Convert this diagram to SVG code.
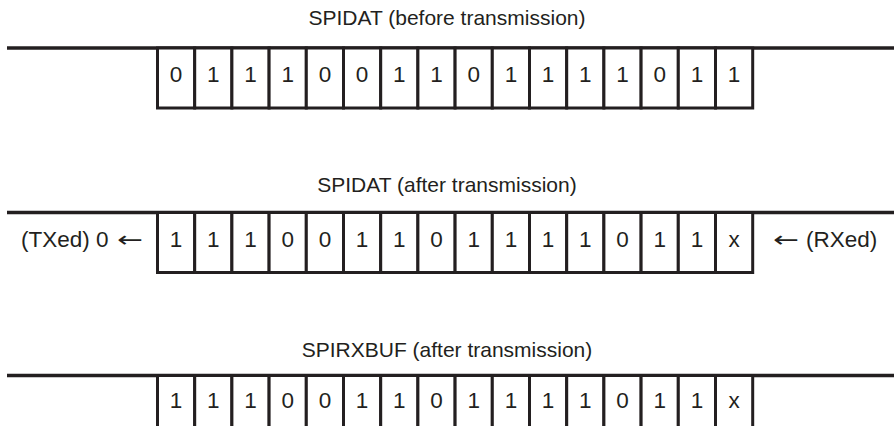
<svg xmlns="http://www.w3.org/2000/svg" width="894" height="426" viewBox="0 0 894 426">
<defs>
<style>
.t{font-family:"Liberation Sans",Arial,sans-serif;font-size:21px;fill:#231f20;text-anchor:middle}
.d{font-family:"Liberation Sans",Arial,sans-serif;font-size:22.5px;fill:#231f20;text-anchor:middle}
.s{font-family:"Liberation Sans",Arial,sans-serif;font-size:22.5px;fill:#231f20}
.a{font-family:"DejaVu Sans",sans-serif;font-size:22px;fill:#231f20}
.bus{stroke:#231f20;stroke-width:3.5;fill:none}
.c{stroke:#231f20;stroke-width:3;fill:#fff}
</style>
</defs>
<rect width="894" height="426" fill="#fff"/>
<g id="row1">
<text class="t" x="447" y="25">SPIDAT (before transmission)</text>
<line class="bus" x1="7" y1="48" x2="894" y2="48"/>
<g id="row1-cells">
<rect class="c" x="157.5" y="48" width="37.2" height="60"/><rect class="c" x="194.7" y="48" width="37.2" height="60"/><rect class="c" x="231.9" y="48" width="37.2" height="60"/><rect class="c" x="269.1" y="48" width="37.2" height="60"/><rect class="c" x="306.3" y="48" width="37.2" height="60"/><rect class="c" x="343.5" y="48" width="37.2" height="60"/><rect class="c" x="380.7" y="48" width="37.2" height="60"/><rect class="c" x="417.9" y="48" width="37.2" height="60"/><rect class="c" x="455.1" y="48" width="37.2" height="60"/><rect class="c" x="492.3" y="48" width="37.2" height="60"/><rect class="c" x="529.5" y="48" width="37.2" height="60"/><rect class="c" x="566.7" y="48" width="37.2" height="60"/><rect class="c" x="603.9" y="48" width="37.2" height="60"/><rect class="c" x="641.1" y="48" width="37.2" height="60"/><rect class="c" x="678.3" y="48" width="37.2" height="60"/><rect class="c" x="715.5" y="48" width="37.2" height="60"/>
</g>
<text class="d" x="176.1" y="82">0</text><text class="d" x="213.3" y="82">1</text><text class="d" x="250.5" y="82">1</text><text class="d" x="287.7" y="82">1</text><text class="d" x="324.9" y="82">0</text><text class="d" x="362.1" y="82">0</text><text class="d" x="399.3" y="82">1</text><text class="d" x="436.5" y="82">1</text><text class="d" x="473.7" y="82">0</text><text class="d" x="510.9" y="82">1</text><text class="d" x="548.1" y="82">1</text><text class="d" x="585.3" y="82">1</text><text class="d" x="622.5" y="82">1</text><text class="d" x="659.7" y="82">0</text><text class="d" x="696.9" y="82">1</text><text class="d" x="734.1" y="82">1</text>
</g>
<g id="row2">
<text class="t" x="447" y="192">SPIDAT (after transmission)</text>
<line class="bus" x1="7" y1="212.5" x2="894" y2="212.5"/>
<g id="row2-cells">
<rect class="c" x="157.5" y="212.5" width="37.2" height="60"/><rect class="c" x="194.7" y="212.5" width="37.2" height="60"/><rect class="c" x="231.9" y="212.5" width="37.2" height="60"/><rect class="c" x="269.1" y="212.5" width="37.2" height="60"/><rect class="c" x="306.3" y="212.5" width="37.2" height="60"/><rect class="c" x="343.5" y="212.5" width="37.2" height="60"/><rect class="c" x="380.7" y="212.5" width="37.2" height="60"/><rect class="c" x="417.9" y="212.5" width="37.2" height="60"/><rect class="c" x="455.1" y="212.5" width="37.2" height="60"/><rect class="c" x="492.3" y="212.5" width="37.2" height="60"/><rect class="c" x="529.5" y="212.5" width="37.2" height="60"/><rect class="c" x="566.7" y="212.5" width="37.2" height="60"/><rect class="c" x="603.9" y="212.5" width="37.2" height="60"/><rect class="c" x="641.1" y="212.5" width="37.2" height="60"/><rect class="c" x="678.3" y="212.5" width="37.2" height="60"/><rect class="c" x="715.5" y="212.5" width="37.2" height="60"/>
</g>
<text class="d" x="176.1" y="247">1</text><text class="d" x="213.3" y="247">1</text><text class="d" x="250.5" y="247">1</text><text class="d" x="287.7" y="247">0</text><text class="d" x="324.9" y="247">0</text><text class="d" x="362.1" y="247">1</text><text class="d" x="399.3" y="247">1</text><text class="d" x="436.5" y="247">0</text><text class="d" x="473.7" y="247">1</text><text class="d" x="510.9" y="247">1</text><text class="d" x="548.1" y="247">1</text><text class="d" x="585.3" y="247">1</text><text class="d" x="622.5" y="247">0</text><text class="d" x="659.7" y="247">1</text><text class="d" x="696.9" y="247">1</text><text class="d" x="734.1" y="247">x</text>
<g id="txed"><text class="s" x="21" y="247">(TXed) 0</text><text class="a" x="117" y="247" textLength="26" lengthAdjust="spacingAndGlyphs">←</text></g>
<g id="rxed"><text class="a" x="773" y="247" textLength="26" lengthAdjust="spacingAndGlyphs">←</text><text class="s" x="806" y="247">(RXed)</text></g>
</g>
<g id="row3">
<text class="t" x="447" y="357">SPIRXBUF (after transmission)</text>
<line class="bus" x1="7" y1="375.5" x2="894" y2="375.5"/>
<g id="row3-cells">
<rect class="c" x="157.5" y="375.5" width="37.2" height="60"/><rect class="c" x="194.7" y="375.5" width="37.2" height="60"/><rect class="c" x="231.9" y="375.5" width="37.2" height="60"/><rect class="c" x="269.1" y="375.5" width="37.2" height="60"/><rect class="c" x="306.3" y="375.5" width="37.2" height="60"/><rect class="c" x="343.5" y="375.5" width="37.2" height="60"/><rect class="c" x="380.7" y="375.5" width="37.2" height="60"/><rect class="c" x="417.9" y="375.5" width="37.2" height="60"/><rect class="c" x="455.1" y="375.5" width="37.2" height="60"/><rect class="c" x="492.3" y="375.5" width="37.2" height="60"/><rect class="c" x="529.5" y="375.5" width="37.2" height="60"/><rect class="c" x="566.7" y="375.5" width="37.2" height="60"/><rect class="c" x="603.9" y="375.5" width="37.2" height="60"/><rect class="c" x="641.1" y="375.5" width="37.2" height="60"/><rect class="c" x="678.3" y="375.5" width="37.2" height="60"/><rect class="c" x="715.5" y="375.5" width="37.2" height="60"/>
</g>
<text class="d" x="176.1" y="408">1</text><text class="d" x="213.3" y="408">1</text><text class="d" x="250.5" y="408">1</text><text class="d" x="287.7" y="408">0</text><text class="d" x="324.9" y="408">0</text><text class="d" x="362.1" y="408">1</text><text class="d" x="399.3" y="408">1</text><text class="d" x="436.5" y="408">0</text><text class="d" x="473.7" y="408">1</text><text class="d" x="510.9" y="408">1</text><text class="d" x="548.1" y="408">1</text><text class="d" x="585.3" y="408">1</text><text class="d" x="622.5" y="408">0</text><text class="d" x="659.7" y="408">1</text><text class="d" x="696.9" y="408">1</text><text class="d" x="734.1" y="408">x</text>
</g>
</svg>
